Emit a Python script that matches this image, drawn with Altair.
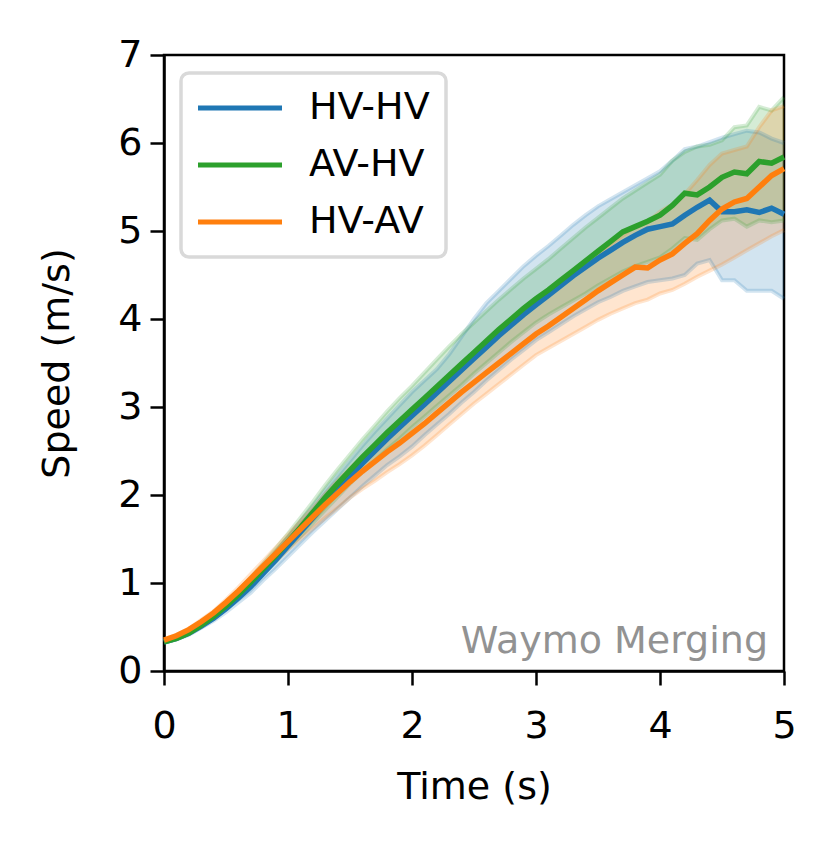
import altair as alt
import pandas as pd

time_s = [0.0, 0.1, 0.2, 0.3, 0.4, 0.5, 0.6, 0.7, 0.8, 0.9,
          1.0, 1.1, 1.2, 1.3, 1.4, 1.5, 1.6, 1.7, 1.8, 1.9,
          2.0, 2.1, 2.2, 2.3, 2.4, 2.5, 2.6, 2.7, 2.8, 2.9,
          3.0, 3.1, 3.2, 3.3, 3.4, 3.5, 3.6, 3.7, 3.8, 3.9,
          4.0, 4.1, 4.2, 4.3, 4.4, 4.5, 4.6, 4.7, 4.8, 4.9, 5.0]

series_names = ["HV-HV", "AV-HV", "HV-AV"]
series_colors = ["#1f77b4", "#2ca02c", "#ff7f0e"]

hvhv_mean = [0.33, 0.37, 0.43, 0.51, 0.60, 0.71, 0.83, 0.96, 1.11, 1.26,
             1.42, 1.58, 1.74, 1.90, 2.06, 2.21, 2.36, 2.50, 2.64, 2.77,
             2.90, 3.03, 3.16, 3.29, 3.42, 3.55, 3.68, 3.81, 3.93, 4.05,
             4.16, 4.27, 4.38, 4.49, 4.59, 4.69, 4.78, 4.87, 4.95, 5.02,
             5.05, 5.08, 5.18, 5.27, 5.35, 5.22, 5.22, 5.24, 5.21, 5.26, 5.19]
hvhv_low = [0.32, 0.36, 0.41, 0.49, 0.57, 0.67, 0.78, 0.89, 1.03, 1.16,
            1.30, 1.44, 1.58, 1.71, 1.84, 1.97, 2.10, 2.22, 2.34, 2.44,
            2.55, 2.68, 2.80, 2.92, 3.05, 3.17, 3.30, 3.42, 3.54, 3.65,
            3.76, 3.85, 3.94, 4.03, 4.11, 4.19, 4.25, 4.32, 4.37, 4.42,
            4.44, 4.46, 4.50, 4.63, 4.67, 4.44, 4.44, 4.32, 4.32, 4.32, 4.23]
hvhv_high = [0.34, 0.38, 0.45, 0.53, 0.63, 0.75, 0.88, 1.02, 1.18, 1.35,
             1.52, 1.70, 1.87, 2.05, 2.22, 2.39, 2.56, 2.72, 2.87, 3.02,
             3.17, 3.30, 3.43, 3.60, 3.80, 4.00, 4.18, 4.32, 4.46, 4.60,
             4.72, 4.83, 4.95, 5.07, 5.18, 5.28, 5.36, 5.44, 5.52, 5.60,
             5.68, 5.80, 5.93, 5.96, 6.01, 6.06, 6.10, 6.14, 6.12, 6.05, 6.00]

avhv_mean = [0.33, 0.37, 0.43, 0.52, 0.62, 0.74, 0.87, 1.01, 1.16, 1.31,
             1.47, 1.63, 1.80, 1.97, 2.13, 2.28, 2.43, 2.57, 2.71, 2.84,
             2.97, 3.10, 3.23, 3.36, 3.49, 3.62, 3.75, 3.88, 4.00, 4.12,
             4.23, 4.33, 4.44, 4.55, 4.66, 4.77, 4.88, 4.99, 5.05, 5.11,
             5.18, 5.29, 5.43, 5.41, 5.50, 5.61, 5.67, 5.65, 5.79, 5.77, 5.84]
avhv_low = [0.32, 0.36, 0.42, 0.50, 0.60, 0.71, 0.83, 0.96, 1.10, 1.24,
            1.39, 1.53, 1.68, 1.83, 1.98, 2.13, 2.26, 2.39, 2.52, 2.64,
            2.77, 2.89, 3.01, 3.13, 3.25, 3.38, 3.50, 3.62, 3.74, 3.85,
            3.96, 4.05, 4.13, 4.21, 4.29, 4.38, 4.46, 4.54, 4.60, 4.65,
            4.70, 4.80, 4.92, 4.90, 5.02, 5.12, 5.14, 5.05, 5.12, 5.10, 5.12]
avhv_high = [0.34, 0.38, 0.44, 0.54, 0.64, 0.77, 0.91, 1.06, 1.22, 1.39,
             1.56, 1.74, 1.92, 2.11, 2.29, 2.46, 2.63, 2.79, 2.95, 3.10,
             3.24, 3.39, 3.54, 3.69, 3.83, 3.96, 4.09, 4.22, 4.34, 4.46,
             4.57, 4.68, 4.80, 4.92, 5.04, 5.15, 5.26, 5.37, 5.46, 5.55,
             5.64, 5.80, 5.90, 5.96, 5.98, 6.03, 6.18, 6.20, 6.41, 6.37, 6.52]

hvav_mean = [0.35, 0.40, 0.47, 0.56, 0.66, 0.78, 0.91, 1.05, 1.19, 1.33,
             1.47, 1.61, 1.75, 1.89, 2.02, 2.15, 2.27, 2.38, 2.49, 2.59,
             2.70, 2.81, 2.93, 3.05, 3.17, 3.28, 3.39, 3.50, 3.61, 3.72,
             3.83, 3.92, 4.02, 4.12, 4.22, 4.32, 4.41, 4.50, 4.59, 4.58,
             4.67, 4.74, 4.86, 4.97, 5.12, 5.25, 5.33, 5.37, 5.50, 5.63, 5.71]
hvav_low = [0.34, 0.39, 0.45, 0.54, 0.63, 0.74, 0.86, 0.99, 1.12, 1.25,
            1.38, 1.50, 1.62, 1.74, 1.85, 1.97, 2.07, 2.16, 2.26, 2.35,
            2.45, 2.56, 2.68, 2.80, 2.92, 3.04, 3.15, 3.26, 3.37, 3.48,
            3.59, 3.67, 3.75, 3.83, 3.91, 3.99, 4.06, 4.12, 4.18, 4.22,
            4.29, 4.33, 4.40, 4.48, 4.55, 4.62, 4.70, 4.78, 4.86, 4.94, 5.01]
hvav_high = [0.36, 0.41, 0.48, 0.58, 0.68, 0.81, 0.95, 1.10, 1.25, 1.40,
             1.55, 1.70, 1.85, 2.01, 2.16, 2.30, 2.44, 2.56, 2.69, 2.80,
             2.92, 3.04, 3.17, 3.30, 3.43, 3.56, 3.68, 3.80, 3.92, 4.04,
             4.16, 4.27, 4.39, 4.51, 4.62, 4.74, 4.85, 4.95, 5.05, 5.10,
             5.22, 5.30, 5.42, 5.58, 5.75, 5.88, 5.92, 5.96, 6.18, 6.37, 6.42]

annotation = ["Waymo Merging"]

rows = []
for name, m, lo, hi in [("HV-HV", hvhv_mean, hvhv_low, hvhv_high),
                        ("AV-HV", avhv_mean, avhv_low, avhv_high),
                        ("HV-AV", hvav_mean, hvav_low, hvav_high)]:
    for t, a, b, c in zip(time_s, m, lo, hi):
        rows.append({"t": t, "series": name, "mean": a, "lo": b, "hi": c})
df = pd.DataFrame(rows)

FONT = "DejaVu Sans"
FS = 38

x_enc = alt.X("t:Q", scale=alt.Scale(domain=[0, 5], nice=False),
              axis=alt.Axis(values=[0, 1, 2, 3, 4, 5], format="d", title="Time (s)",
                            labelFlush=False,
                            titleX=310, titleY=127, titleBaseline="alphabetic",
                            titleAlign="center"))
y_enc = alt.Y("mean:Q", scale=alt.Scale(domain=[0, 7], nice=False),
              axis=alt.Axis(values=[0, 1, 2, 3, 4, 5, 6, 7], format="d", title="Speed (m/s)",
                            labelFlush=False,
                            titleX=-96, titleY=308, titleAngle=270,
                            titleBaseline="alphabetic", titleAlign="center"))

def sc():
    return alt.Scale(domain=series_names, range=series_colors)

band = alt.Chart(df).mark_area(fillOpacity=0.2, strokeWidth=0).encode(
    x=x_enc, y=alt.Y("lo:Q"), y2="hi:Q",
    fill=alt.Fill("series:N", scale=sc(), legend=None))
edge_lo = alt.Chart(df).mark_line(strokeWidth=4, opacity=0.2).encode(
    x="t:Q", y="lo:Q", color=alt.Color("series:N", scale=sc(), legend=None))
edge_hi = alt.Chart(df).mark_line(strokeWidth=4, opacity=0.2).encode(
    x="t:Q", y="hi:Q", color=alt.Color("series:N", scale=sc(), legend=None))
mean_line = alt.Chart(df).mark_line(strokeWidth=5.5).encode(
    x=x_enc, y=y_enc,
    stroke=alt.Stroke("series:N", scale=sc(),
                      legend=alt.Legend(title=None, orient="none", legendX=17, legendY=18,
                                        symbolType="M-1.5,0L5.5,0", symbolSize=576,
                                        symbolStrokeWidth=5, symbolOpacity=1,
                                        labelFontSize=FS, labelFont=FONT, labelColor="black",
                                        labelOffset=74, padding=16, rowPadding=19,
                                        cornerRadius=8, strokeColor="#d9d9d9",
                                        fillColor="white")))

label = alt.Chart(pd.DataFrame({"label": annotation})).mark_text(
    align="right", baseline="alphabetic", fontSize=FS, font=FONT, color="#929292"
).encode(x=alt.value(604), y=alt.value(598), text="label:N")

chart = alt.layer(band, edge_lo, edge_hi, mean_line, label).resolve_scale(
    color="independent", fill="independent", stroke="independent"
).properties(
    width=620, height=616,
    autosize=alt.AutoSizeParams(type="none"),
    padding={"left": 156, "top": 47, "right": 36, "bottom": 150},
).configure_view(
    stroke="black", strokeWidth=2.5
).configure_axis(
    grid=False, domainColor="black", domainWidth=2.5,
    tickColor="black", tickWidth=2.5, tickSize=14,
    labelFont=FONT, labelFontSize=FS, labelColor="black", labelPadding=8,
    titleFont=FONT, titleFontSize=FS, titleColor="black", titleFontWeight="normal",
).configure_axisX(labelPadding=22).configure_legend(strokeWidth=3.5)

chart.save("out.html", embed_options={"renderer": "svg", "actions": False})
